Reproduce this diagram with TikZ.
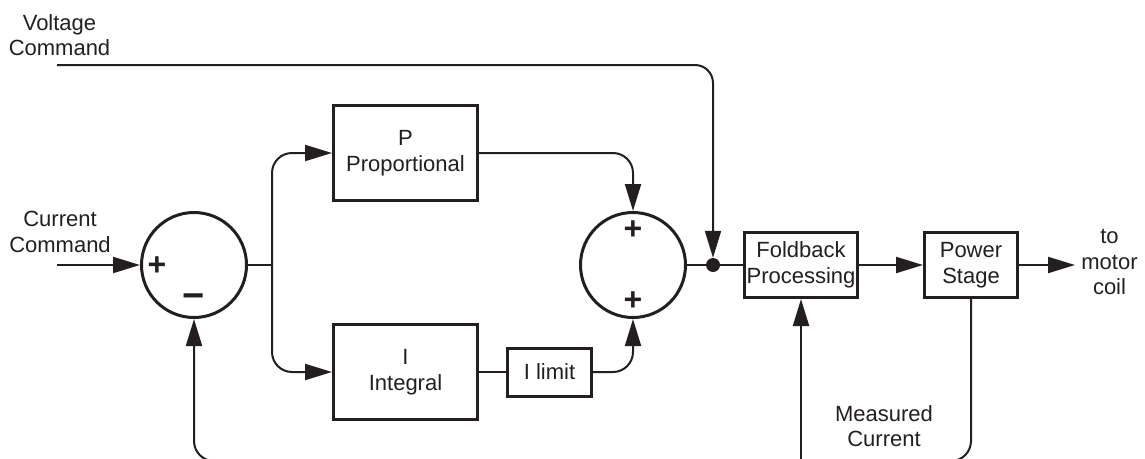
\documentclass[tikz,border=0pt]{standalone}
\usepackage{fontspec}
\setmainfont{Liberation Sans}
\usetikzlibrary{arrows.meta}
\definecolor{ink}{HTML}{231F20}
\begin{document}
\begin{tikzpicture}[x=1pt,y=-1pt,
  every node/.style={text=ink, font=\fontsize{22}{25.5}\selectfont, inner sep=0pt, align=center},
  blk/.style={draw=ink, line width=3pt, fill=white},
  sumc/.style={circle, draw=ink, line width=3pt, minimum size=105pt},
  sign/.style={font=\fontsize{32}{32}\selectfont\bfseries},
  wire/.style={draw=ink, line width=2pt},
  arr/.style={wire, -{Triangle[length=27pt,width=16pt]}},
  rc/.style={rounded corners=20pt}]
\clip (0,0) rectangle (1145,458);
% labels
\node (vcmd) at (59.5,35) {Voltage\\Command};
\node (ccmd) at (60,232) {Current\\Command};
\node (mcur) at (884,426) {Measured\\Current};
\node (motor) at (1109.5,262) {to\\motor\\coil};
% blocks
\node[sumc] (c1) at (194,265) {};
\node[sumc] (c2) at (633,265) {};
\node[blk, minimum width=144pt, minimum height=95pt] (P) at (405.5,153) {P\\Proportional};
\node[blk, minimum width=144pt, minimum height=95pt] (I) at (405.5,372) {I\\Integral};
\node[blk, minimum width=84pt, minimum height=48pt] (Ilim) at (549.5,372) {I limit};
\node[blk, minimum width=113pt, minimum height=65pt] (fold) at (801,265) {Foldback\\Processing};
\node[blk, minimum width=93pt, minimum height=65pt] (power) at (971,265) {Power\\Stage};
\node[circle, fill=ink, minimum size=14pt] (dot) at (713,265) {};
% signs
\node[sign] (s1p) at (157,266) {+};
\node[sign, font=\fontsize{38}{38}\selectfont\bfseries] (s1m) at (194,301) {−};
\node[sign] (s2a) at (633,230) {+};
\node[sign] (s2b) at (633,301) {+};
% coordinates
\coordinate (vstart) at (57,65);
\coordinate (cin) at (57,265);
\coordinate (split) at (272,265);
\coordinate (out) at (1075,265);
\coordinate (fb) at (801,461);
% connectors
\draw[arr, rounded corners=18pt] (vstart) -| (dot.north);
\draw[arr] (cin) -- (c1.west);
\draw[wire] (c1.east) -- (split);
\draw[arr, rc] (split) |- (P.west);
\draw[arr, rc] (split) |- (I.west);
\draw[arr, rc] (P.east) -| (c2.north);
\draw[wire] (I.east) -- (Ilim.west);
\draw[arr, rc] (Ilim.east) -| (c2.south);
\draw[wire] (c2.east) -- (dot) -- (fold.west);
\draw[arr] (fold.east) -- (power.west);
\draw[arr] (power.east) -- (out);
\draw[arr, rc] (power.south) |- (fb) -| (c1.south);
\draw[arr] (fb) -- (fold.south);
\end{tikzpicture}
\end{document}
